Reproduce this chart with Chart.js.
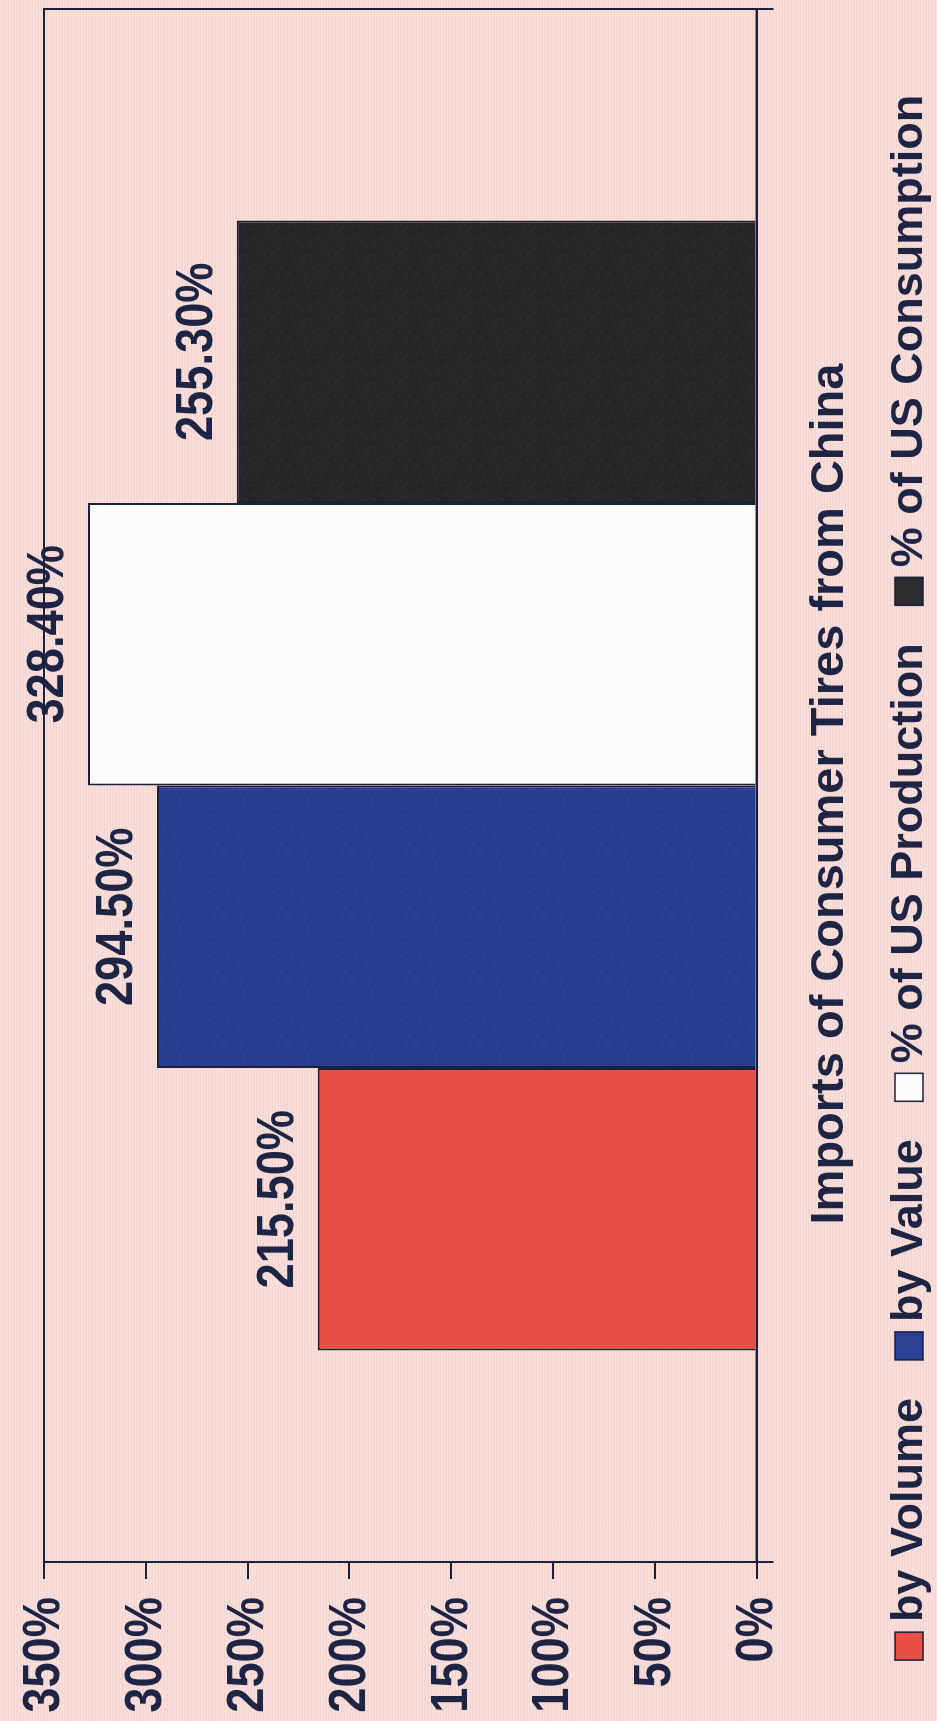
<!DOCTYPE html>
<html>
<head>
<meta charset="utf-8">
<title>Imports of Consumer Tires from China</title>
<script src="https://cdn.jsdelivr.net/npm/chart.js@4.4.1/dist/chart.umd.min.js"></script>
<style>
  html, body {
    margin: 0;
    padding: 0;
  }
  body {
    width: 937px;
    height: 1721px;
    overflow: hidden;
    position: relative;
    background-color: #f8dad5;
    background-image: repeating-linear-gradient(90deg, rgba(255,255,255,0.18) 0px, rgba(255,255,255,0.18) 1px, rgba(230,170,165,0.12) 2px, rgba(230,170,165,0.12) 3px);
  }
  /* chart is laid out upright, then turned to read bottom-to-top */
  #wrap {
    position: absolute;
    left: 0;
    top: 0;
    width: 1721px;
    height: 937px;
    transform-origin: 0 0;
    transform: translate(0px, 1721px) rotate(-90deg);
  }
</style>
</head>
<body>
<div id="wrap">
  <canvas id="tiresChart" width="1721" height="937"></canvas>
</div>
<script>
// Data
const categories = [''];
const seriesNames = ['by Volume', 'by Value', '% of US Production', '% of US Consumption'];
const seriesValues = [215.5, 294.5, 328.4, 255.3];
const tickValues = [0, 50, 100, 150, 200, 250, 300, 350];
const chartTitle = 'Imports of Consumer Tires from China';

// Styling
const barColors = ['#e84e44', '#2a4195', '#fcfcfa', '#2c2c2e'];
const ink = '#1e2443';
const lineInk = '#1a1f3a';
const textFamily = "'Liberation Sans', Arial, sans-serif";
// numbers are set in a narrow bold face: regular bold squeezed sideways
const numberFont = 'bold 52px ' + textFamily;
const numberSqueeze = 0.87;

function squeezedText(ctx, text, x, y, align) {
    const w = ctx.measureText(text).width * numberSqueeze;
    let left = x;
    if (align === 'center') left = x - w / 2;
    if (align === 'right') left = x - w;
    ctx.save();
    ctx.translate(left, y);
    ctx.scale(numberSqueeze, 1);
    ctx.textAlign = 'left';
    ctx.fillText(text, 0, 0);
    ctx.restore();
}

// Mottled fill for the darker bars
function mottled(base, shade) {
    const c = document.createElement('canvas');
    c.width = 64;
    c.height = 64;
    const g = c.getContext('2d');
    g.fillStyle = base;
    g.fillRect(0, 0, 64, 64);
    g.fillStyle = shade;
    for (let y = 0; y < 64; y += 2) {
        for (let x = 0; x < 64; x += 2) {
            const h = Math.sin(x * 12.9898 + y * 78.233) * 43758.5453;
            const f = h - Math.floor(h);
            g.globalAlpha = f * 0.3;
            g.fillRect(x, y, 2, 2);
        }
    }
    return g.createPattern(c, 'repeat');
}

// Thin frame round the plot area (top and right sides come from here)
const plotFrame = {
    id: 'plotFrame',
    afterDraw(chart) {
        const a = chart.chartArea;
        const ctx = chart.ctx;
        ctx.save();
        ctx.strokeStyle = lineInk;
        ctx.lineWidth = 2;
        ctx.strokeRect(a.left, a.top, a.right - a.left, a.bottom - a.top);
        ctx.restore();
    }
};

// Percent tick labels on the value axis
const axisLabels = {
    id: 'axisLabels',
    afterDraw(chart) {
        const ctx = chart.ctx;
        const yScale = chart.scales.y;
        ctx.save();
        ctx.font = numberFont;
        ctx.fillStyle = ink;
        ctx.textBaseline = 'middle';
        tickValues.forEach(v => {
            squeezedText(ctx, v + '%', chart.chartArea.left - 35, yScale.getPixelForValue(v) + 1, 'right');
        });
        ctx.restore();
    }
};

// Percent labels above each bar
const valueLabels = {
    id: 'valueLabels',
    afterDatasetsDraw(chart) {
        const ctx = chart.ctx;
        ctx.save();
        ctx.font = numberFont;
        ctx.fillStyle = ink;
        ctx.textBaseline = 'alphabetic';
        chart.data.datasets.forEach((ds, i) => {
            const bar = chart.getDatasetMeta(i).data[0];
            squeezedText(ctx, ds.data[0].toFixed(2) + '%', bar.x + 10, bar.y - 25, 'center');
        });
        ctx.restore();
    }
};

// Legend row: small square swatch, then the series name
const swatchLegend = {
    id: 'swatchLegend',
    afterDraw(chart) {
        const ctx = chart.ctx;
        const box = 28, gapText = 10, gapItem = 38;
        const cy = 909;
        ctx.save();
        ctx.font = 'bold 45px ' + textFamily;
        const items = chart.data.datasets.map((ds, i) => ({
            label: ds.label,
            color: barColors[i],
            w: ctx.measureText(ds.label).width
        }));
        let total = gapItem * (items.length - 1);
        items.forEach(it => { total += box + gapText + it.w; });
        let x = chart.width / 2 - 17 - total / 2;
        ctx.textBaseline = 'middle';
        ctx.textAlign = 'left';
        items.forEach(it => {
            ctx.fillStyle = it.color;
            ctx.fillRect(x, cy - box / 2, box, box);
            ctx.strokeStyle = lineInk;
            ctx.lineWidth = 1.5;
            ctx.strokeRect(x, cy - box / 2, box, box);
            ctx.fillStyle = ink;
            ctx.fillText(it.label, x + box + gapText, cy + 1);
            x += box + gapText + it.w + gapItem;
        });
        ctx.restore();
    }
};

function initTiresChart() {
    const ctx = document.getElementById('tiresChart').getContext('2d');
    const fills = [barColors[0], mottled(barColors[1], '#1a2c7a'), barColors[2], mottled(barColors[3], '#101012')];
    const tiresChart = new Chart(ctx, {
        type: 'bar',
        data: {
            labels: categories,
            datasets: seriesNames.map((name, i) => ({
                label: name,
                data: [seriesValues[i]],
                backgroundColor: fills[i],
                borderColor: lineInk,
                borderWidth: 2,
                categoryPercentage: 0.7276,
                barPercentage: 1
            }))
        },
        options: {
            responsive: false,
            animation: false,
            layout: {
                padding: { top: 44, right: 9, left: 142, bottom: 79 }
            },
            scales: {
                x: {
                    grid: { drawOnChartArea: false, offset: true, tickLength: 17, color: lineInk, lineWidth: 2 },
                    border: { color: lineInk, width: 2 },
                    ticks: { display: false }
                },
                y: {
                    min: 0,
                    max: 350,
                    afterBuildTicks: scale => {
                        scale.ticks = tickValues.map(v => ({ value: v }));
                    },
                    grid: { drawOnChartArea: false, tickLength: 17, color: lineInk, lineWidth: 2 },
                    border: { color: lineInk, width: 2 },
                    ticks: { display: false }
                }
            },
            plugins: {
                legend: { display: false },
                tooltip: { enabled: false },
                title: {
                    display: true,
                    position: 'bottom',
                    text: chartTitle,
                    color: ink,
                    font: { family: textFamily, size: 47, weight: 'bold' },
                    padding: { top: 28, bottom: 0 }
                }
            }
        },
        plugins: [plotFrame, axisLabels, valueLabels, swatchLegend]
    });
}

window.onload = () => {
    initTiresChart();
};
</script>
</body>
</html>
